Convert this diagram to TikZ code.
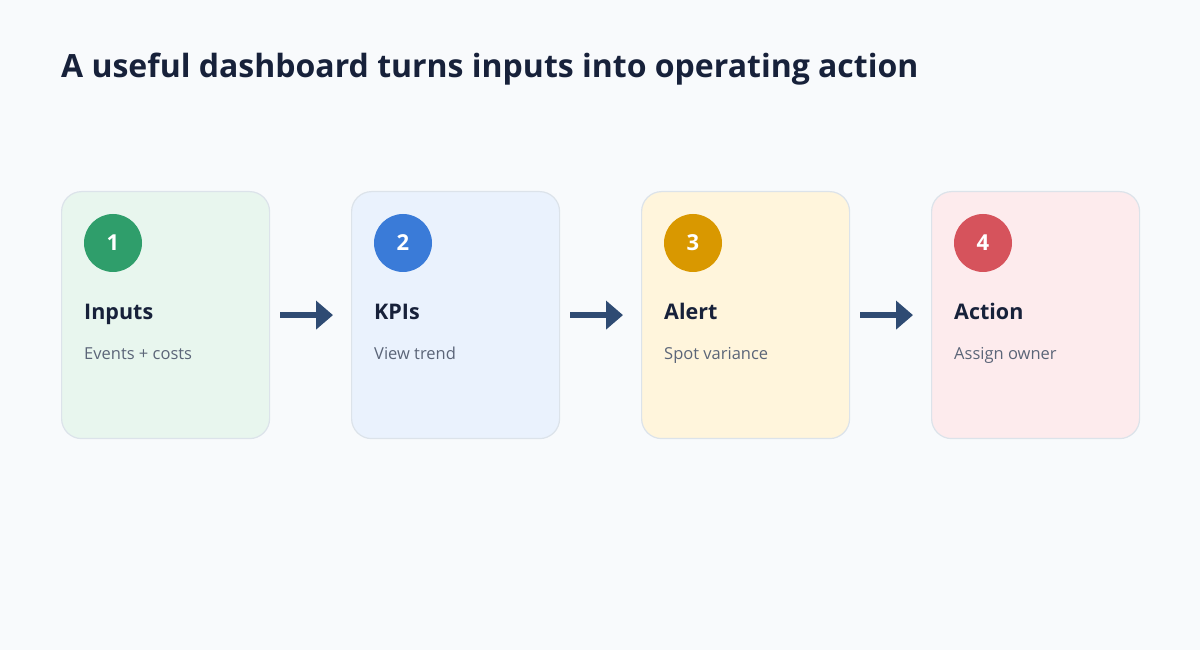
\documentclass[tikz,border=0pt]{standalone}
\usepackage{fontspec}
\setmainfont{Open Sans}
\usetikzlibrary{positioning}
\usetikzlibrary{calc}
\usetikzlibrary{arrows.meta}
\definecolor{pagebg}{HTML}{F8FAFC}
\definecolor{ink}{HTML}{17213A}
\definecolor{muted}{HTML}{5B6578}
\definecolor{cardline}{HTML}{DCE3EA}
\definecolor{flowink}{HTML}{2F4B73}
\definecolor{inputsfill}{HTML}{E8F6EE}
\definecolor{kpisfill}{HTML}{EAF2FD}
\definecolor{alertfill}{HTML}{FFF5DC}
\definecolor{actionfill}{HTML}{FDEBED}
\definecolor{inputsdot}{HTML}{2F9E6B}
\definecolor{kpisdot}{HTML}{3A7BD8}
\definecolor{alertdot}{HTML}{D99800}
\definecolor{actiondot}{HTML}{D6535C}
\tikzset{
    % One step of the flow, drawn as a soft rounded card
    step card/.style={
        draw=cardline, line width=1.2pt, rounded corners=20pt,
        minimum width=208pt, minimum height=247pt, inner sep=0},
%
    % The numbered disc in the top left corner of a card
    step badge/.style={
        circle, minimum size=58pt, inner sep=0, text=white,
        font=\fontsize{22}{26}\selectfont\bfseries},
%
    % Heading and short line of text under it
    step title/.style={anchor=base west, text=ink, inner sep=0,
        font=\fontsize{21.5}{26}\selectfont\bfseries},
    step note/.style={anchor=base west, text=muted, inner sep=0,
        font=\fontsize{16.5}{20}\selectfont},
%
    % A thick flat arrow between two cards
    flow/.style={draw=flowink, line width=6pt,
        -{Triangle[length=17pt,width=28pt]},
        shorten <=10pt, shorten >=18pt}}

\begin{document}
\begin{tikzpicture}

\useasboundingbox[fill=pagebg] (0,0) rectangle (1200pt,650pt);

\node[anchor=base west, text=ink, inner sep=0,
    font=\fontsize{32}{38}\selectfont\bfseries]
    (headline) at (61pt,572pt)
    {A useful dashboard turns inputs into operating action};

\node[step card, fill=inputsfill, anchor=north west] (inputs) at (61pt,459pt) {};
\node[step card, fill=kpisfill, right=80.8pt of inputs] (kpis) {};
\node[step card, fill=alertfill, right=80.8pt of kpis] (alert) {};
\node[step card, fill=actionfill, right=80.8pt of alert] (action) {};

\node[step badge, fill=inputsdot] (inputs badge) at ($(inputs.north west)+(52pt,-52pt)$) {1};
\node[step badge, fill=kpisdot] (kpis badge) at ($(kpis.north west)+(52pt,-52pt)$) {2};
\node[step badge, fill=alertdot] (alert badge) at ($(alert.north west)+(52pt,-52pt)$) {3};
\node[step badge, fill=actiondot] (action badge) at ($(action.north west)+(52pt,-52pt)$) {4};

\node[step title] (inputs title) at ($(inputs.north west)+(23pt,-129pt)$) {Inputs};
\node[step title] (kpis title) at ($(kpis.north west)+(23pt,-129pt)$) {KPIs};
\node[step title] (alert title) at ($(alert.north west)+(23pt,-129pt)$) {Alert};
\node[step title] (action title) at ($(action.north west)+(23pt,-129pt)$) {Action};

\node[step note] (inputs note) at ($(inputs.north west)+(23pt,-169pt)$) {Events + costs};
\node[step note] (kpis note) at ($(kpis.north west)+(23pt,-169pt)$) {View trend};
\node[step note] (alert note) at ($(alert.north west)+(23pt,-169pt)$) {Spot variance};
\node[step note] (action note) at ($(action.north west)+(23pt,-169pt)$) {Assign owner};

\draw[flow] (inputs.east) -- (kpis.west);
\draw[flow] (kpis.east) -- (alert.west);
\draw[flow] (alert.east) -- (action.west);

\end{tikzpicture}
\end{document}
